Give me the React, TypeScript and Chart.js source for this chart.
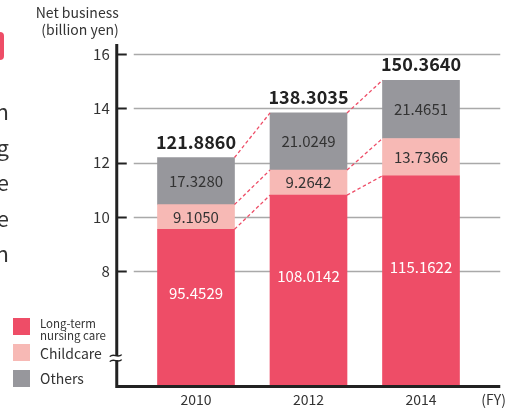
import { useEffect, useRef } from "react";
import { Chart, registerables } from "chart.js";

Chart.register(...registerables);

const years = ["2010", "2012", "2014"];
const nursing = [95.4529, 108.0142, 115.1622];
const childcare = [9.105, 9.2642, 13.7366];
const others = [17.328, 21.0249, 21.4651];
const totals = [121.886, 138.3035, 150.364];
const yTickValues = [80, 100, 120, 140, 160];
const legendLabels = [["Long-term", "nursing care"], ["Childcare"], ["Others"]];
const sideLetters = ["n", "g", "e", "e", "n"];

const Y_MIN = 38.1;
const Y_MAX = 163.7;
const BREAK_AT = 48;

const RED = "#ee4d67";
const PINK = "#f7b9b5";
const GRAY = "#97979c";
const TEXT = "#333333";
const FONT = "'Noto Sans CJK JP', 'Noto Sans', sans-serif";

const decorPlugin = {
  id: "decor",
  beforeDatasetsDraw(chart: any) {
    const ctx = chart.ctx;
    const y = chart.scales.y;
    const area = chart.chartArea;
    const axisX = area.left - 23;
    ctx.save();
    ctx.strokeStyle = "#a9a9a9";
    ctx.lineWidth = 1.5;
    yTickValues.forEach((v) => {
      const py = Math.round(y.getPixelForValue(v)) + 0.5;
      ctx.beginPath();
      ctx.moveTo(axisX + 17, py);
      ctx.lineTo(area.right + 23, py);
      ctx.stroke();
    });
    ctx.restore();
  },
  afterDatasetsDraw(chart: any) {
    const ctx = chart.ctx;
    const yS = chart.scales.y;
    const area = chart.chartArea;
    const axisX = area.left - 23;
    const metas = [0, 1, 2].map((i) => chart.getDatasetMeta(i));
    ctx.save();

    // dashed connectors
    ctx.strokeStyle = RED;
    ctx.lineWidth = 1.3;
    ctx.setLineDash([3.5, 2.5]);
    for (let j = 0; j < years.length - 1; j++) {
      metas.forEach((m) => {
        const a = m.data[j];
        const b = m.data[j + 1];
        ctx.beginPath();
        ctx.moveTo(a.x + a.width / 2, a.y);
        ctx.lineTo(b.x - b.width / 2, b.y);
        ctx.stroke();
      });
    }
    ctx.setLineDash([]);

    // segment labels
    ctx.textAlign = "center";
    ctx.textBaseline = "middle";
    ctx.font = `15px ${FONT}`;
    const series = [nursing, childcare, others];
    metas.forEach((m, i) => {
      m.data.forEach((el: any, j: number) => {
        let cy;
        if (i === 0) cy = (el.y + yS.getPixelForValue(BREAK_AT)) / 2;
        else cy = (el.y + el.base) / 2;
        ctx.fillStyle = i === 0 ? "#ffffff" : TEXT;
        ctx.fillText(series[i][j].toFixed(4), el.x, cy);
      });
    });

    // totals
    ctx.font = `bold 18px ${FONT}`;
    ctx.fillStyle = "#222";
    ctx.textBaseline = "alphabetic";
    metas[2].data.forEach((el: any, j: number) => {
      ctx.fillText(totals[j].toFixed(4), el.x, el.y - 9);
    });

    // axes
    ctx.strokeStyle = "#222";
    ctx.lineWidth = 3;
    ctx.beginPath();
    ctx.moveTo(axisX, area.top);
    ctx.lineTo(axisX, area.bottom + 1.5);
    ctx.lineTo(area.right + 23, area.bottom + 1.5);
    ctx.stroke();
    ctx.lineWidth = 2;
    yTickValues.forEach((v) => {
      const py = Math.round(yS.getPixelForValue(v)) + 0.5;
      ctx.beginPath();
      ctx.moveTo(axisX, py);
      ctx.lineTo(axisX + 10, py);
      ctx.stroke();
    });
    // break mark
    const by = yS.getPixelForValue(BREAK_AT);
    ctx.fillStyle = "#ffffff";
    ctx.fillRect(axisX - 3, by - 2, 6, 4);
    ctx.strokeStyle = "#222";
    ctx.lineWidth = 1.4;
    [-2.5, 2.5].forEach((off) => {
      const yy = by + off;
      ctx.beginPath();
      ctx.moveTo(axisX - 7, yy + 1);
      ctx.bezierCurveTo(axisX - 3, yy - 3, axisX + 1, yy + 3, axisX + 5, yy - 1);
      ctx.stroke();
    });

    // axis titles
    ctx.fillStyle = TEXT;
    ctx.font = `14px ${FONT}`;
    ctx.textAlign = "right";
    ctx.textBaseline = "middle";
    ctx.fillText("Net business", axisX + 2, 13);
    ctx.fillText("(billion yen)", axisX + 2, 30);
    ctx.textAlign = "left";
    ctx.fillText("(FY)", area.right + 4, 400);

    // legend
    const colors = [RED, PINK, GRAY];
    const boxY = [318, 344, 370];
    colors.forEach((c, i) => {
      ctx.fillStyle = c;
      ctx.fillRect(13, boxY[i], 17, 17);
    });
    ctx.fillStyle = TEXT;
    ctx.textAlign = "left";
    ctx.font = `11.5px ${FONT}`;
    ctx.fillText(legendLabels[0][0], 40, 324);
    ctx.fillText(legendLabels[0][1], 40, 336);
    ctx.font = `14px ${FONT}`;
    ctx.fillText(legendLabels[1][0], 40, 354);
    ctx.fillText(legendLabels[2][0], 40, 379);

    // side fragments from neighbouring content
    ctx.fillStyle = RED;
    ctx.beginPath();
    ctx.roundRect(-10, 32, 14, 28, 4);
    ctx.fill();
    ctx.fillStyle = TEXT;
    ctx.font = `22px ${FONT}`;
    ctx.textAlign = "right";
    sideLetters.forEach((ch, i) => {
      ctx.fillText(ch, 9, 112 + i * 35.5);
    });

    ctx.restore();
  },
};

export default function App() {
  const ref = useRef<HTMLCanvasElement | null>(null);
  useEffect(() => {
    if (!ref.current) return;
    const chart = new Chart(ref.current, {
      type: "bar",
      data: {
        labels: years,
        datasets: [
          { label: "Long-term nursing care", data: nursing, backgroundColor: RED },
          { label: "Childcare", data: childcare, backgroundColor: PINK },
          { label: "Others", data: others, backgroundColor: GRAY },
        ],
      },
      options: {
        responsive: false,
        animation: false,
        events: [],
        datasets: { bar: { barThickness: 77 } },
        layout: { padding: { top: 44, right: 39.75, left: 0, bottom: 0 } },
        plugins: { legend: { display: false }, tooltip: { enabled: false } },
        scales: {
          x: {
            stacked: true,
            grid: { display: false, drawTicks: false },
            border: { display: false },
            ticks: { color: TEXT, font: { size: 14, family: FONT }, padding: 6, maxRotation: 0 },
            afterFit: (s: any) => {
              s.height = 23;
              s.paddingLeft = 0;
              s.paddingRight = 0;
            },
          },
          y: {
            stacked: true,
            min: Y_MIN,
            max: Y_MAX,
            grid: { display: false, drawTicks: false },
            border: { display: false },
            afterBuildTicks: (s: any) => {
              s.ticks = yTickValues.map((v) => ({ value: v }));
            },
            ticks: {
              color: TEXT,
              padding: 30,
              font: { size: 15, family: FONT },
              callback: (v: any) => String(Number(v) / 10),
            },
            afterFit: (s: any) => {
              s.width = 139.75;
              s.paddingTop = 0;
              s.paddingBottom = 0;
            },
          },
        },
      },
      plugins: [decorPlugin],
    });
    return () => chart.destroy();
  }, []);
  return (
    <div style={{ position: "fixed", left: 0, top: 0, width: 517, height: 408, background: "#fff" }}>
      <canvas ref={ref} width={517} height={408} style={{ display: "block" }} />
    </div>
  );
}
